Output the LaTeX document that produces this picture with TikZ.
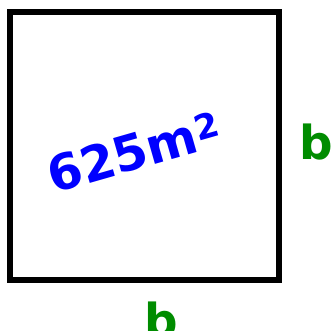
\documentclass[tikz,border=0pt]{standalone}
\usepackage{fontspec}
\setmainfont{DejaVu Sans}
\usepackage{tikz}
\usetikzlibrary{positioning}

\begin{document}
\begin{tikzpicture}[
  x=0.03cm,y=-0.03cm,
  side/.style={text=green!55!black,font=\fontsize{40}{40}\selectfont\bfseries,inner sep=0pt},
  area/.style={text=blue,font=\fontsize{42}{42}\selectfont\bfseries,inner sep=0pt},
]
  \useasboundingbox (0,0) rectangle (331,331);
  \draw[line width=4.3pt] (10,12) rectangle (279,280);
  \node[area,rotate=16] (label) at (134,152) {625m\textsuperscript{2}};
  \node[side] (right) at (316,142) {b};
  \node[side] (bottom) at (161,320) {b};
\end{tikzpicture}
\end{document}
